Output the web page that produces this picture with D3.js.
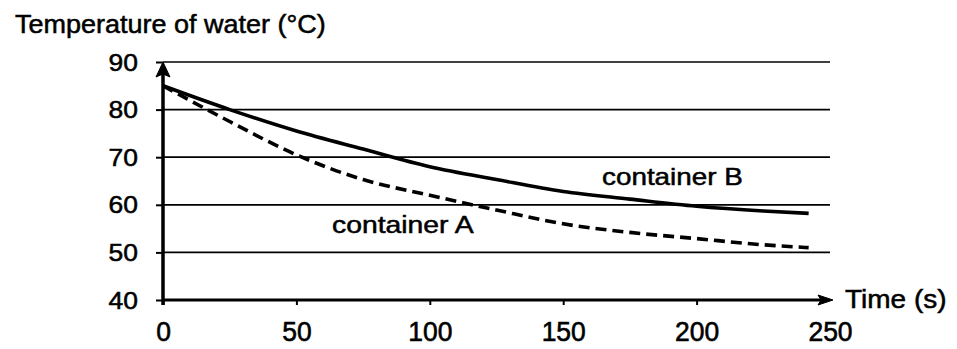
<!DOCTYPE html>
<html>
<head>
<meta charset="utf-8">
<script src="https://cdn.jsdelivr.net/npm/d3@7"></script>
<style>
  html, body { margin: 0; padding: 0; background: #fff; }
  svg { display: block; }
  text { font-family: "Liberation Sans", Arial, sans-serif; fill: #000; stroke: #000; stroke-width: 0.5px; }
</style>
</head>
<body>
<svg id="chart" width="957" height="349"></svg>
<script>
// Cooling of water in two containers
const times = [0, 25, 50, 75, 100, 125, 150, 175, 200, 225, 242];
const tempA = [85, 77.5, 70.5, 65.3, 62, 58.9, 56, 54.2, 52.9, 51.6, 51];
const tempB = [85, 80, 75.5, 71.7, 68, 65.3, 62.8, 61.2, 59.7, 58.7, 58.2];

const xTicks = [0, 50, 100, 150, 200, 250];
const yTicks = [40, 50, 60, 70, 80, 90];

const yTitle = "Temperature of water (°C)";
const xTitle = "Time (s)";
const nameA = "container A";
const nameB = "container B";

const svg = d3.select("#chart");
const x = d3.scaleLinear().domain([0, 250]).range([163, 830]);
const y = d3.scaleLinear().domain([40, 90]).range([300, 62]);
const SX = 1.15; // horizontal stretch of the lettering

function label(sel, px, py, str, size, anchor, sx, sy) {
  return sel.append("text")
    .attr("transform", `translate(${px},${py}) scale(${sx || SX},${sy || 1})`)
    .attr("text-anchor", anchor || "start")
    .attr("font-size", size)
    .text(str);
}

// horizontal gridlines
svg.append("g").selectAll("line")
  .data(yTicks.filter(d => d > 40))
  .join("line")
  .attr("x1", x(0)).attr("x2", x(250))
  .attr("y1", d => y(d)).attr("y2", d => y(d))
  .attr("stroke", "#000").attr("stroke-width", 1.7);

// y axis ticks + labels
const yAxis = svg.append("g")
  .attr("transform", `translate(${x(0)},0)`)
  .call(d3.axisLeft(y).tickValues(yTicks).tickSize(7).tickFormat(d3.format("d")));
yAxis.select(".domain").remove();
yAxis.selectAll(".tick line").attr("stroke", "#000").attr("stroke-width", 2);
yAxis.selectAll(".tick text")
  .attr("x", null).attr("dy", null)
  .attr("transform", `translate(-25,8) scale(${SX},1)`)
  .attr("text-anchor", "end")
  .attr("font-size", 23)
  .attr("font-family", null)
  .attr("fill", "#000");

// x axis ticks + labels
const xAxis = svg.append("g")
  .attr("transform", `translate(0,${y(40)})`)
  .call(d3.axisBottom(x).tickValues(xTicks).tickSize(5).tickFormat(d3.format("d")));
xAxis.select(".domain").remove();
xAxis.selectAll(".tick line")
  .attr("stroke", "#000").attr("stroke-width", 2)
  .attr("opacity", d => d === 250 ? 0 : 1);
xAxis.selectAll(".tick text")
  .attr("y", null).attr("dy", null)
  .attr("transform", `translate(0,41) scale(${SX},1.2)`)
  .attr("text-anchor", "middle")
  .attr("font-size", 23)
  .attr("font-family", null)
  .attr("fill", "#000");

// axis lines with arrowheads
const ax = svg.append("g").attr("stroke", "#000").attr("fill", "#000");
ax.append("line")
  .attr("x1", x(0)).attr("x2", x(250) - 8)
  .attr("y1", y(40)).attr("y2", y(40))
  .attr("stroke-width", 3.2);
ax.append("path")
  .attr("d", `M${x(250) + 3},${y(40)} L${x(250) - 12},${y(40) - 5} L${x(250) - 9},${y(40)} L${x(250) - 12},${y(40) + 5} Z`)
  .attr("stroke-width", 1);
ax.append("line")
  .attr("x1", x(0)).attr("x2", x(0))
  .attr("y1", y(40) + 5).attr("y2", y(90) + 10)
  .attr("stroke-width", 3.5);
ax.append("path")
  .attr("d", `M${x(0)},${y(90)} L${x(0) - 7},${y(90) + 15} L${x(0)},${y(90) + 12} L${x(0) + 7},${y(90) + 15} Z`)
  .attr("stroke-width", 1);

// cooling curves
const line = d3.line()
  .x((d, i) => x(times[i]))
  .y(d => y(d))
  .curve(d3.curveMonotoneX);

svg.append("path")
  .datum(tempB)
  .attr("d", line)
  .attr("fill", "none")
  .attr("stroke", "#000")
  .attr("stroke-width", 3.6);

svg.append("path")
  .datum(tempA)
  .attr("d", line)
  .attr("fill", "none")
  .attr("stroke", "#000")
  .attr("stroke-width", 3.6)
  .attr("stroke-dasharray", "11 6");

// titles and series names
label(svg, 15, 33, yTitle, 25, "start", 1.08);
label(svg, 845, 308, xTitle, 25, "start", 1.12);
label(svg, 602, 185, nameB, 24, "start", 1.16);
label(svg, 332, 233, nameA, 24, "start", 1.18);
</script>
</body>
</html>
